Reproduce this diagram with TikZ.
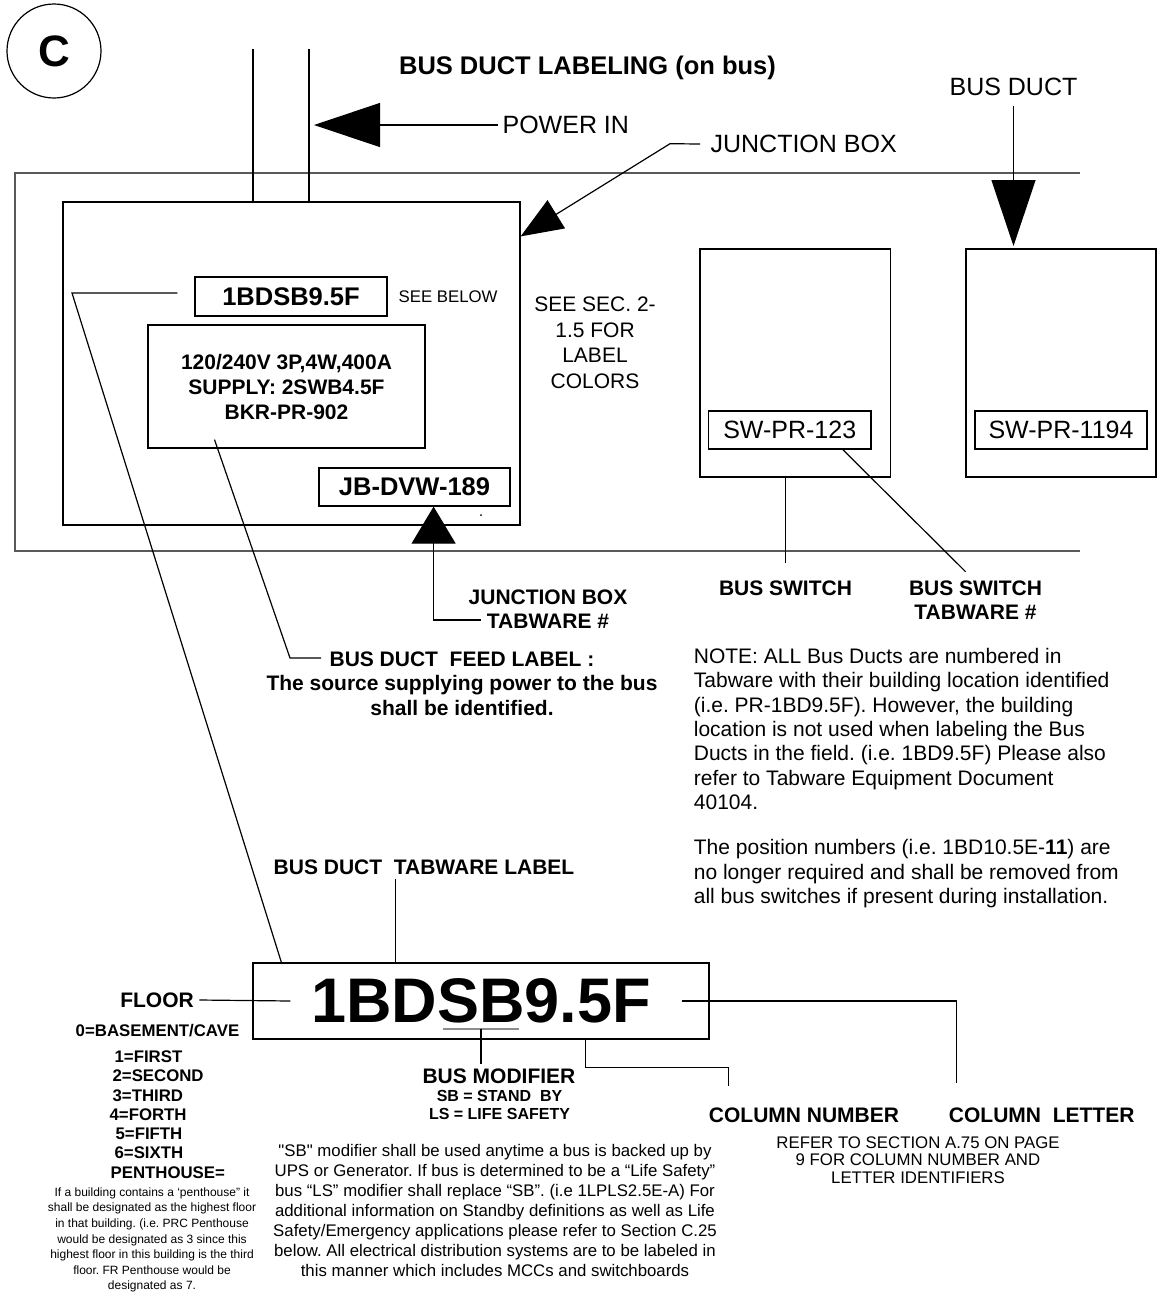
\documentclass[tikz,border=0pt]{standalone}
\usepackage{fontspec}
\setmainfont{Liberation Sans}
\newfontfamily\plainfont{Liberation Sans}
\usetikzlibrary{calc,arrows.meta}
\frenchspacing

\begin{document}
\begin{tikzpicture}[x=0.5pt,y=-0.5pt,line width=0.6pt,
  box/.style={draw,inner sep=0pt},
  reg/.style={inner sep=0pt,font=\fontsize{12.5}{15}\selectfont},
  lbl/.style={inner sep=0pt,align=center,font=\bfseries\fontsize{10.5}{12.25}\selectfont},
  tag/.style={box,font=\bfseries\fontsize{12.75}{15}\selectfont},
  swtag/.style={box,minimum height=19pt,font=\fontsize{12.5}{15}\selectfont},
  floorlist/.style={inner sep=0pt,anchor=west,font=\bfseries\fontsize{8.4}{10}\selectfont},
  bigarrow/.style={-{Triangle[length=33pt,width=22pt]}},
  midarrow/.style={-{Triangle[length=21pt,width=16.5pt]}},
  jbarrow/.style={-{Triangle[length=18.5pt,width=22pt]}}]
  \useasboundingbox (0,0) rectangle (1157,1292);
  \node[draw,circle,minimum size=47pt,inner sep=0pt,font=\bfseries\fontsize{22}{26}\selectfont] (circ) at (54,51) {C};
  \node[inner sep=0pt,font=\bfseries\fontsize{12.75}{15}\selectfont] (title) at (587.5,68) {BUS DUCT LABELING (on bus)};
  \node[reg,anchor=west] (pwr) at (502,125) {POWER IN};
  \node[reg] (duct) at (1013.5,87) {BUS DUCT};
  \node[reg,anchor=west] (jbl) at (710,144) {JUNCTION BOX};
  \draw[black!65] (1080,173) -- (15,173) -- (15,551) -- (1080,551);
  \node[box,minimum width=228.5pt,minimum height=161.5pt] (jb) at (291.5,363.5) {};
  \coordinate (in1) at (253,49);
  \coordinate (in2) at (309,49);
  \draw (in1) -- (in1 |- jb.north);
  \draw (in2) -- (in2 |- jb.north);
  \draw[bigarrow] ($(pwr.west)+(-4.5,0)$) -- ($(in2 |- pwr.west)+(5,0)$);
  \coordinate (jbknee) at (670,143.7);
  \draw[midarrow] ($(jbl.west)+(-10,0)$) -- (jbknee) -- ($(jb.north east)+(0,35)$);
  \coordinate (ducttip) at (1013.5,246);
  \draw[bigarrow] ($(duct.south)+(0,10)$) -- (ducttip);
  \node[tag,minimum width=96pt,minimum height=19.5pt] (tag1) at (291,296.5) {1BDSB9.5F};
  \node[inner sep=0pt,anchor=west,font=\fontsize{8.4}{10}\selectfont] (seeb) at (398,297) {SEE BELOW};
  \node[box,minimum width=138.5pt,minimum height=61.5pt,align=center,font=\bfseries\fontsize{10.5}{12.5}\selectfont] (sup) at (286.5,386.5) {120/240V 3P,4W,400A\\SUPPLY: 2SWB4.5F\\BKR-PR-902};
  \node[tag,minimum width=95.5pt,minimum height=19pt] (jbtag) at (414.5,487) {JB-DVW-189};
  \fill (481,515) circle (1);
  \node[inner sep=0pt,align=center,font=\fontsize{10.5}{12.75}\selectfont] (seesec) at (595,343) {SEE SEC. 2-\\1.5 FOR\\LABEL\\COLORS};
  \node[box,minimum width=95.25pt,minimum height=114pt] (sw1) at (795.25,363) {};
  \node[box,minimum width=95pt,minimum height=114pt] (sw2) at (1061,363) {};
  \node[swtag,minimum width=81.25pt] (swt1) at (789.75,430) {SW-PR-123};
  \node[swtag,minimum width=86pt] (swt2) at (1061,430) {SW-PR-1194};
  \node[lbl] (bsw) at (785.5,588) {BUS SWITCH};
  \node[lbl] (swtab) at (975.5,600) {BUS SWITCH\\TABWARE \#};
  \draw (bsw.north |- sw1.south) -- ($(bsw.north)+(0,-17)$);
  \coordinate (swtabend) at (965.6,571.7);
  \draw ($(swt1.south)+(53,0)$) -- (swtabend);
  \node[lbl] (jbtab) at (548,609) {JUNCTION BOX\\TABWARE \#};
  \coordinate (jbtabend) at (481,620);
  \coordinate (jbtabknee) at (433.6,620);
  \draw[jbarrow] (jbtabend) -- (jbtabknee) -- (jbtabknee |- jbtag.south);
  \node[lbl] (feed) at (462,683.5) {BUS DUCT\ \ FEED LABEL :\\The source supplying power to the bus\\shall be identified.};
  \coordinate (feedknee) at (290,658);
  \coordinate (feedend) at (321,658);
  \draw ($(sup.south)+(-72,-9)$) -- (feedknee) -- (feedend);
  \node[inner sep=0pt,anchor=west,align=left,font=\fontsize{10.5}{12.15}\selectfont] (note1) at (693.3,729) {NOTE: ALL Bus Ducts are numbered in\\Tabware with their building location identified\\(i.e. PR-1BD9.5F). However, the building\\location is not used when labeling the Bus\\Ducts in the field. (i.e. 1BD9.5F) Please also\\refer to Tabware Equipment Document\\40104.};
  \node[inner sep=0pt,anchor=west,align=left,font=\fontsize{10.5}{12.15}\selectfont] (note2) at (693.3,873.6) {The position numbers (i.e. 1BD10.5E-\textbf{11}) are\\no longer required and shall be removed from\\all bus switches if present during installation.};
  \node[box,minimum width=228pt,minimum height=38pt,font=\bfseries\fontsize{31.5}{36}\selectfont] (big) at (481,1001) {1BDSB9.5F};
  \node[lbl] (tabl) at (424,867) {BUS DUCT\ \ TABWARE LABEL};
  \draw ($(big.north)+(-85.5,0)$) -- ($(tabl.south)+(-28.5,4)$);
  \coordinate (tagknee) at (72,293);
  \draw ($(tag1.west)+(-17,-3.5)$) -- (tagknee) -- ($(big.north west)+(29,0)$);
  \node[lbl] (floor) at (157,1000) {FLOOR};
  \draw ($(floor.east)+(5,0)$) -- ($(big.west)+(38,0)$);
  \node[floorlist,anchor=center] (fl0) at (157.5,1031) {0=BASEMENT/CAVE};
  \foreach \t/\xx [count=\i from 1] in {1=FIRST/114,2=SECOND/112,3=THIRD/112,4=FORTH/109,5=FIFTH/115,6=SIXTH/114,PENTHOUSE=/110}
    \node[floorlist] (fl\i) at (\xx,{1037.4+19.3*\i}) {\t};
  \node[inner sep=0pt,align=center,font=\fontsize{6}{7.8}\selectfont] (pent) at (152,1240) {If a building contains a ‘penthouse” it\\shall be designated as the highest floor\\in that building. (i.e. PRC Penthouse\\would be designated as 3 since this\\highest floor in this building is the third\\floor. FR Penthouse would be\\designated as 7.};
  \draw[black!45] (443,1029) -- (519,1029);
  \draw[line width=1.2pt] (462,1039) -- (538,1039);
  \node[lbl] (busmod) at (499,1076.7) {BUS MODIFIER};
  \node[inner sep=0pt,align=center,font=\bfseries\fontsize{8}{9.2}\selectfont] (sbls) at (499.5,1105) {SB = STAND\ \ BY\\LS = LIFE SAFETY};
  \coordinate (sbline) at (481,1029);
  \draw (sbline) -- ($(sbline |- busmod.north)+(0,-5)$);
  \node[inner sep=0pt,align=center,font=\plainfont\fontsize{8.4}{10}\selectfont] (sbpara) at (495,1210) {"SB" modifier shall be used anytime a bus is backed up by\\UPS or Generator. If bus is determined to be a “Life Safety”\\bus “LS” modifier shall replace “SB”. (i.e 1LPLS2.5E-A) For\\additional information on Standby definitions as well as Life\\Safety/Emergency applications please refer to Section C.25\\below. All electrical distribution systems are to be labeled in\\this manner which includes MCCs and switchboards};
  \node[lbl] (colnum) at (804,1115) {COLUMN NUMBER};
  \node[lbl] (collet) at (1041.7,1115) {COLUMN\ \ LETTER};
  \draw ($(big.south)+(104.6,0)$) -- ++(0,27.7) -| ($(colnum.north)+(-75.7,-20.8)$);
  \draw ($(big.east)+(-28,0)$) -| ($(collet.north)+(-85.2,-24)$);
  \node[inner sep=0pt,align=center,font=\fontsize{8.4}{8.75}\selectfont] (refer) at (918,1160) {REFER TO SECTION A.75 ON PAGE\\9 FOR COLUMN NUMBER AND\\LETTER IDENTIFIERS};
\end{tikzpicture}
\end{document}
